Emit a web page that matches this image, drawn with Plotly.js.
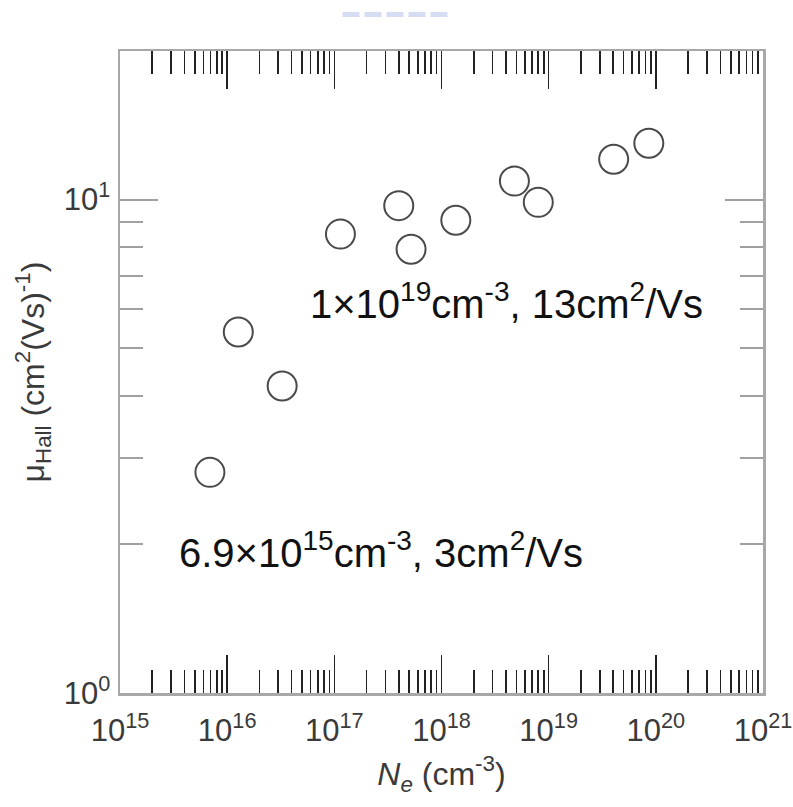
<!DOCTYPE html>
<html>
<head>
<meta charset="utf-8">
<script src="https://cdn.plot.ly/plotly-3.0.1.min.js"></script>
<style>
  html, body { margin: 0; padding: 0; background: #ffffff; }
  #chart { width: 793px; height: 807px; }
</style>
</head>
<body>
<div id="chart"></div>
<script>
// Hall mobility versus electron concentration
const electronDensity = [6.9e15, 1.27e16, 3.26e16, 1.14e17, 3.99e17, 5.2e17, 1.36e18, 4.79e18, 8.0e18, 4.04e19, 8.6e19]; // cm^-3
const hallMobility    = [2.8,    5.39,    4.19,    8.51,    9.72,    7.93,   9.08,    10.9,    9.87,   12.07,   13];     // cm^2/Vs

const xDecades = [15, 16, 17, 18, 19, 20, 21];
const xTickText = ['10<sup>15</sup>', '10<sup>16</sup>', '10<sup>17</sup>', '10<sup>18</sup>',
                   '10<sup>19</sup>', '10<sup>20</sup>', '10<sup>21</sup>'];
const yDecades = [0, 1];
const yTickText = ['10<sup>0</sup>', '10<sup>1</sup>'];
const yMinorVals = [2, 3, 4, 5, 6, 7, 8, 9];

const noteHigh = '1\u00d710<sup>19</sup>cm<sup>-3</sup>, 13cm<sup>2</sup>/Vs';
const noteLow  = '6.9\u00d710<sup>15</sup>cm<sup>-3</sup>, 3cm<sup>2</sup>/Vs';

// minor ticks at 2..9 within each decade of the x axis
const xMinorVals = [];
for (let d = 15; d < 21; d++) {
  for (let m = 2; m <= 9; m++) xMinorVals.push(m * Math.pow(10, d));
}

const FONT = 'Liberation Sans, Arial, Helvetica, sans-serif';

const trace = {
  type: 'scatter',
  mode: 'markers',
  x: electronDensity,
  y: hallMobility,
  marker: {
    symbol: 'circle',
    size: 29,
    color: '#ffffff',
    line: { color: '#4a4a4a', width: 2 }
  },
  hoverinfo: 'x+y',
  showlegend: false
};

const layout = {
  width: 793,
  height: 807,
  margin: { l: 120, r: 30, t: 51, b: 114 },
  paper_bgcolor: '#ffffff',
  plot_bgcolor: '#ffffff',
  font: { family: FONT, color: '#333333' },
  xaxis: {
    type: 'log',
    range: [15, 21],
    tickmode: 'array',
    tickvals: xDecades.map(d => Math.pow(10, d)),
    ticktext: xTickText,
    ticks: 'inside',
    ticklen: 38,
    tickwidth: 1.6,
    tickcolor: '#222222',
    minor: {
      tickmode: 'array',
      tickvals: xMinorVals,
      ticks: 'inside',
      ticklen: 23,
      tickwidth: 1.6,
      tickcolor: '#222222',
      showgrid: false
    },
    showline: true,
    linecolor: '#a8a8a8',
    linewidth: 2.5,
    mirror: 'ticks',
    showgrid: false,
    zeroline: false,
    tickfont: { family: FONT, size: 31, color: '#3a3a3a' },
    ticklabelstandoff: 8,
    title: {
      text: '<i>N</i><sub><i>e</i></sub> (cm<sup>-3</sup>)',
      font: { family: FONT, size: 32, color: '#3a3a3a' },
      standoff: 16
    }
  },
  yaxis: {
    type: 'log',
    range: [0, Math.log10(20)],
    tickmode: 'array',
    tickvals: yDecades.map(d => Math.pow(10, d)),
    ticktext: yTickText,
    ticks: 'inside',
    ticklen: 38,
    tickwidth: 2,
    tickcolor: '#a0a0a0',
    minor: {
      tickmode: 'array',
      tickvals: yMinorVals,
      ticks: 'inside',
      ticklen: 23,
      tickwidth: 2,
      tickcolor: '#a0a0a0',
      showgrid: false
    },
    showline: true,
    linecolor: '#a8a8a8',
    linewidth: 2.5,
    mirror: 'ticks',
    showgrid: false,
    zeroline: false,
    tickfont: { family: FONT, size: 31, color: '#3a3a3a' },
    ticklabelstandoff: 1,
    title: {
      text: '\u03bc<sub>Hall</sub> (cm<sup>2</sup>(Vs)<sup>-1</sup>)',
      font: { family: FONT, size: 32, color: '#3a3a3a' },
      standoff: 10
    }
  },
  annotations: [
    {
      text: noteHigh, xref: 'paper', yref: 'paper',
      x: 0.292, y: 0.61, xanchor: 'left', yanchor: 'middle',
      showarrow: false,
      font: { family: FONT, size: 40, color: '#111111' }
    },
    {
      text: noteLow, xref: 'paper', yref: 'paper',
      x: 0.088, y: 0.222, xanchor: 'left', yanchor: 'middle',
      showarrow: false,
      font: { family: FONT, size: 40, color: '#111111' }
    }
  ],
  shapes: [
    {
      type: 'line', xref: 'paper', yref: 'paper',
      x0: 0.346, x1: 0.512, y0: 1.057, y1: 1.057,
      line: { color: 'rgba(120,140,220,0.3)', width: 5, dash: '17px,5px' }
    }
  ]
};

Plotly.newPlot('chart', [trace], layout, { displayModeBar: false, staticPlot: true });
</script>
</body>
</html>
